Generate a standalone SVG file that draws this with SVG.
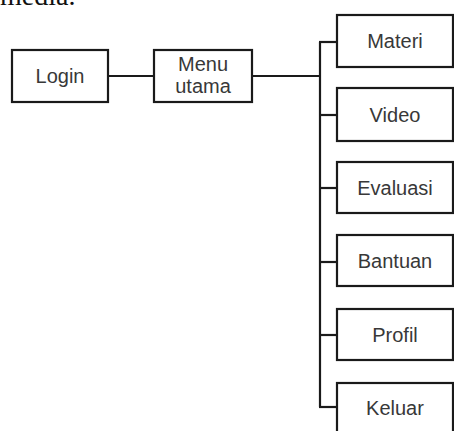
<svg xmlns="http://www.w3.org/2000/svg" width="454" height="431" viewBox="0 0 454 431">
<style>
.box{fill:#fff;stroke:#1a1a1a;stroke-width:2.2}
.lbl{font-family:"Liberation Sans",Arial,sans-serif;font-size:20px;fill:#383838;text-anchor:middle}
.conn{fill:none;stroke:#1a1a1a;stroke-width:2.2}
</style>
<rect width="454" height="431" fill="#fff"/>
<text x="0" y="5" font-family="Liberation Serif,serif" font-size="28" fill="#111">media.</text>
<g id="connectors" class="conn">
<line x1="108" y1="76" x2="154" y2="76"/>
<line x1="252" y1="76" x2="320" y2="76"/>
<line x1="320" y1="42" x2="320" y2="407"/>
<line x1="319" y1="42" x2="337" y2="42"/>
<line x1="320" y1="115" x2="337" y2="115"/>
<line x1="320" y1="188" x2="337" y2="188"/>
<line x1="320" y1="262" x2="337" y2="262"/>
<line x1="320" y1="335" x2="337" y2="335"/>
<line x1="319" y1="407" x2="337" y2="407"/>
</g>
<g id="login"><rect class="box" x="12" y="50" width="96" height="52"/><text class="lbl" x="60" y="83">Login</text></g>
<g id="menu"><rect class="box" x="154" y="50" width="98" height="52"/><text class="lbl" x="203" y="71">Menu</text><text class="lbl" x="203" y="93">utama</text></g>
<g id="materi"><rect class="box" x="337" y="15" width="116" height="52"/><text class="lbl" x="395" y="48">Materi</text></g>
<g id="video"><rect class="box" x="337" y="88" width="116" height="53"/><text class="lbl" x="395" y="122">Video</text></g>
<g id="evaluasi"><rect class="box" x="337" y="162" width="116" height="51"/><text class="lbl" x="395" y="195">Evaluasi</text></g>
<g id="bantuan"><rect class="box" x="337" y="235" width="116" height="51"/><text class="lbl" x="395" y="268">Bantuan</text></g>
<g id="profil"><rect class="box" x="337" y="309" width="116" height="51"/><text class="lbl" x="395" y="342">Profil</text></g>
<g id="keluar"><rect class="box" x="337" y="383" width="116" height="60"/><text class="lbl" x="395" y="415">Keluar</text></g>
</svg>
